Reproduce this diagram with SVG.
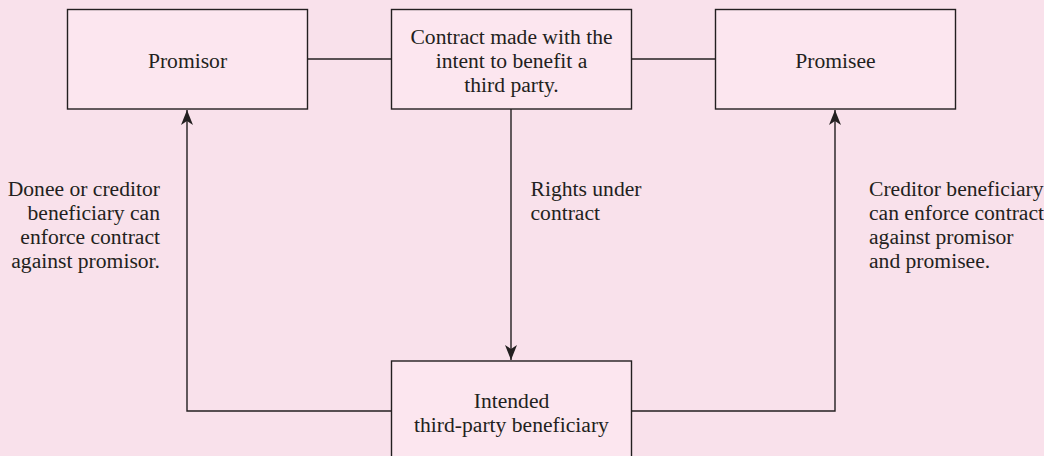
<svg xmlns="http://www.w3.org/2000/svg" width="1044" height="456" viewBox="0 0 1044 456">
  <style>
    .box { fill: #fce6ef; stroke: #231f20; stroke-width: 1.4; }
    .wire { fill: none; stroke: #231f20; stroke-width: 1.4; }
    text { font-family: "Liberation Serif", "Times New Roman", serif; font-size: 21.6px; fill: #231f20; }
    .c { text-anchor: middle; }
    .r { text-anchor: end; }
  </style>
  <defs>
    <marker id="arrow" viewBox="-16 -7 17 14" refX="0" refY="0" markerWidth="17" markerHeight="14" markerUnits="userSpaceOnUse" orient="auto">
      <path d="M0,0 L-15,-6 L-11,0 L-15,6 Z" fill="#231f20"/>
    </marker>
  </defs>

  <rect width="1044" height="456" fill="#f9e1eb"/>

  <g id="connectors">
    <line class="wire" x1="307.5" y1="59" x2="391.5" y2="59"/>
    <line class="wire" x1="631.5" y1="59" x2="715.5" y2="59"/>
    <path class="wire" d="M511,109 V360" marker-end="url(#arrow)"/>
    <path class="wire" d="M391.5,411 H187 V110" marker-end="url(#arrow)"/>
    <path class="wire" d="M631.5,411 H835 V110" marker-end="url(#arrow)"/>
  </g>

  <g id="promisor">
    <rect class="box" x="67.5" y="9.5" width="240" height="99.5"/>
    <text class="c" x="187.5" y="68">Promisor</text>
  </g>

  <g id="contract">
    <rect class="box" x="391.5" y="9.5" width="240" height="99.5"/>
    <text class="c" x="511.5" y="43.5">Contract made with the</text>
    <text class="c" x="511.5" y="67.5">intent to benefit a</text>
    <text class="c" x="511.5" y="91.5">third party.</text>
  </g>

  <g id="promisee">
    <rect class="box" x="715.5" y="9.5" width="240" height="99.5"/>
    <text class="c" x="835.5" y="68">Promisee</text>
  </g>

  <g id="beneficiary">
    <rect class="box" x="391.5" y="361" width="240" height="110"/>
    <text class="c" x="511.5" y="407.5">Intended</text>
    <text class="c" x="511.5" y="431.5">third-party beneficiary</text>
  </g>

  <g id="label-left">
    <text class="r" x="160" y="196">Donee or creditor</text>
    <text class="r" x="160" y="220">beneficiary can</text>
    <text class="r" x="160" y="244">enforce contract</text>
    <text class="r" x="160" y="268">against promisor.</text>
  </g>

  <g id="label-center">
    <text x="530.5" y="196">Rights under</text>
    <text x="530.5" y="220">contract</text>
  </g>

  <g id="label-right">
    <text x="869" y="196">Creditor beneficiary</text>
    <text x="869" y="220">can enforce contract</text>
    <text x="869" y="244">against promisor</text>
    <text x="869" y="268">and promisee.</text>
  </g>
</svg>
